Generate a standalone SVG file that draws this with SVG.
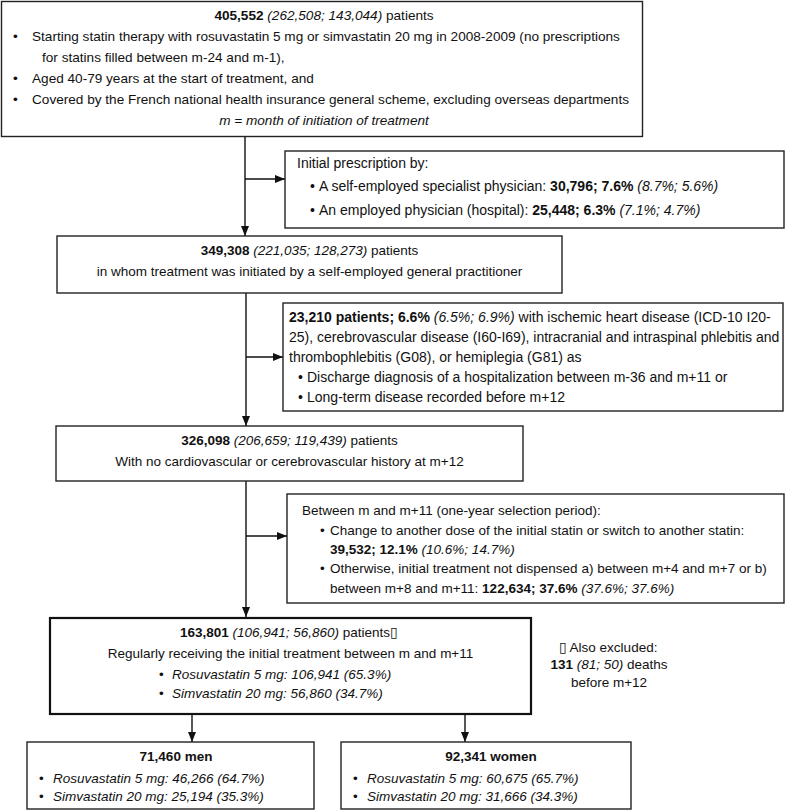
<svg xmlns="http://www.w3.org/2000/svg" width="787" height="811" viewBox="0 0 787 811">
<style>
text{font-family:"Liberation Sans",Arial,sans-serif;font-size:13.5px;fill:#111}
.c{text-anchor:middle}
.s{font-size:14px}
.t{font-size:13.6px}
.b{font-weight:bold}
.i{font-style:italic}
.box{fill:#fff;stroke:#222;stroke-width:1.4}
.thick{fill:#fff;stroke:#111;stroke-width:2.2}
.ln{fill:none;stroke:#111;stroke-width:1.4}
</style>
<defs>
<marker id="ah" viewBox="0 0 10 10" refX="10" refY="5" markerWidth="10" markerHeight="10" markerUnits="userSpaceOnUse" orient="auto">
<path d="M0,1 L10,5 L0,9 Z" fill="#111"/>
</marker>
</defs>
<rect width="787" height="811" fill="#fff"/>

<g id="connectors">
<line class="ln" x1="245" y1="137" x2="245" y2="236" marker-end="url(#ah)"/>
<line class="ln" x1="245" y1="179" x2="285" y2="179" marker-end="url(#ah)"/>
<line class="ln" x1="246" y1="293" x2="246" y2="426" marker-end="url(#ah)"/>
<line class="ln" x1="246" y1="357" x2="283" y2="357" marker-end="url(#ah)"/>
<line class="ln" x1="246" y1="481" x2="246" y2="617" marker-end="url(#ah)"/>
<line class="ln" x1="246" y1="536" x2="287" y2="536" marker-end="url(#ah)"/>
<line class="ln" x1="192" y1="715" x2="192" y2="742" marker-end="url(#ah)"/>
<line class="ln" x1="465" y1="715" x2="465" y2="742" marker-end="url(#ah)"/>
</g>

<g id="start">
<rect class="box" x="1.5" y="1.5" width="641" height="135"/>
<text class="c t" x="324" y="20"><tspan class="b">405,552</tspan> <tspan class="i">(262,508; 143,044)</tspan> patients</text>
<text class="t" x="13" y="41">•</text><text class="t" x="32" y="41">Starting statin therapy with rosuvastatin 5 mg or simvastatin 20 mg in 2008-2009 (no prescriptions</text>
<text class="t" x="42" y="62">for statins filled between m-24 and m-1),</text>
<text class="t" x="13" y="83">•</text><text class="t" x="32" y="83">Aged 40-79 years at the start of treatment, and</text>
<text class="t" x="13" y="104">•</text><text class="t" x="32" y="104">Covered by the French national health insurance general scheme, excluding overseas departments</text>
<text class="c i t" x="324" y="125">m = month of initiation of treatment</text>
</g>

<g id="excl1">
<rect class="box" x="285" y="151" width="499" height="77"/>
<text class="s" x="297" y="168">Initial prescription by:</text>
<text class="s" x="310" y="191">•</text><text class="s" x="319" y="191">A self-employed specialist physician: <tspan class="b">30,796; 7.6%</tspan> <tspan class="i">(8.7%; 5.6%)</tspan></text>
<text class="s" x="310" y="215">•</text><text class="s" x="319" y="215">An employed physician (hospital): <tspan class="b">25,448; 6.3%</tspan> <tspan class="i">(7.1%; 4.7%)</tspan></text>
</g>

<g id="gp">
<rect class="box" x="57" y="236" width="505" height="57"/>
<text class="c" x="309.5" y="255"><tspan class="b">349,308</tspan> <tspan class="i">(221,035; 128,273)</tspan> patients</text>
<text class="c" x="309.5" y="276">in whom treatment was initiated by a self-employed general practitioner</text>
</g>

<g id="excl2">
<rect class="box" x="283" y="303" width="500" height="108"/>
<text class="s" x="289" y="322"><tspan class="b">23,210 patients; 6.6%</tspan> <tspan class="i">(6.5%; 6.9%)</tspan> with ischemic heart disease (ICD-10 I20-</text>
<text class="s" x="289" y="342">25), cerebrovascular disease (I60-I69), intracranial and intraspinal phlebitis and</text>
<text class="s" x="289" y="362">thrombophlebitis (G08), or hemiplegia (G81) as</text>
<text class="s" x="298" y="382">•</text><text class="s" x="307" y="382">Discharge diagnosis of a hospitalization between m-36 and m+11 or</text>
<text class="s" x="298" y="402">•</text><text class="s" x="307" y="402">Long-term disease recorded before m+12</text>
</g>

<g id="nocv">
<rect class="box" x="56" y="426" width="467" height="55"/>
<text class="c" x="289.5" y="445"><tspan class="b">326,098</tspan> <tspan class="i">(206,659; 119,439)</tspan> patients</text>
<text class="c" x="289.5" y="466">With no cardiovascular or cerebrovascular history at m+12</text>
</g>

<g id="excl3">
<rect class="box" x="287" y="494" width="497" height="109"/>
<text x="302" y="515">Between m and m+11 (one-year selection period):</text>
<text x="320" y="535">•</text><text x="330" y="535">Change to another dose of the initial statin or switch to another statin:</text>
<text x="330" y="554"><tspan class="b">39,532; 12.1%</tspan> <tspan class="i">(10.6%; 14.7%)</tspan></text>
<text x="320" y="573">•</text><text x="330" y="573">Otherwise, initial treatment not dispensed a) between m+4 and m+7 or b)</text>
<text x="330" y="593">between m+8 and m+11: <tspan class="b">122,634; 37.6%</tspan> <tspan class="i">(37.6%; 37.6%)</tspan></text>
</g>

<g id="cohort">
<rect class="thick" x="50" y="618" width="481" height="96"/>
<text class="c" x="289" y="637"><tspan class="b">163,801</tspan> <tspan class="i">(106,941; 56,860)</tspan> patients▯</text>
<text class="c" x="290.5" y="658">Regularly receiving the initial treatment between m and m+11</text>
<text x="159" y="679">•</text><text class="i" x="172" y="679">Rosuvastatin 5 mg: 106,941 (65.3%)</text>
<text x="159" y="698">•</text><text class="i" x="172" y="698">Simvastatin 20 mg: 56,860 (34.7%)</text>
</g>

<g id="note">
<text class="c" x="608" y="652">▯  Also excluded:</text>
<text class="c" x="609" y="669"><tspan class="b">131</tspan> <tspan class="i">(81; 50)</tspan> deaths</text>
<text class="c" x="609" y="687">before m+12</text>
</g>

<g id="men">
<rect class="box" x="27" y="742" width="287" height="67"/>
<text class="c b" x="176" y="761">71,460 men</text>
<text x="39" y="783">•</text><text class="i" x="53" y="783">Rosuvastatin 5 mg: 46,266 (64.7%)</text>
<text x="39" y="801">•</text><text class="i" x="53" y="801">Simvastatin 20 mg: 25,194 (35.3%)</text>
</g>

<g id="women">
<rect class="box" x="341" y="742" width="290" height="67"/>
<text class="c b" x="491" y="761">92,341 women</text>
<text x="353" y="783">•</text><text class="i" x="367" y="783">Rosuvastatin 5 mg: 60,675 (65.7%)</text>
<text x="353" y="801">•</text><text class="i" x="367" y="801">Simvastatin 20 mg: 31,666 (34.3%)</text>
</g>
</svg>
